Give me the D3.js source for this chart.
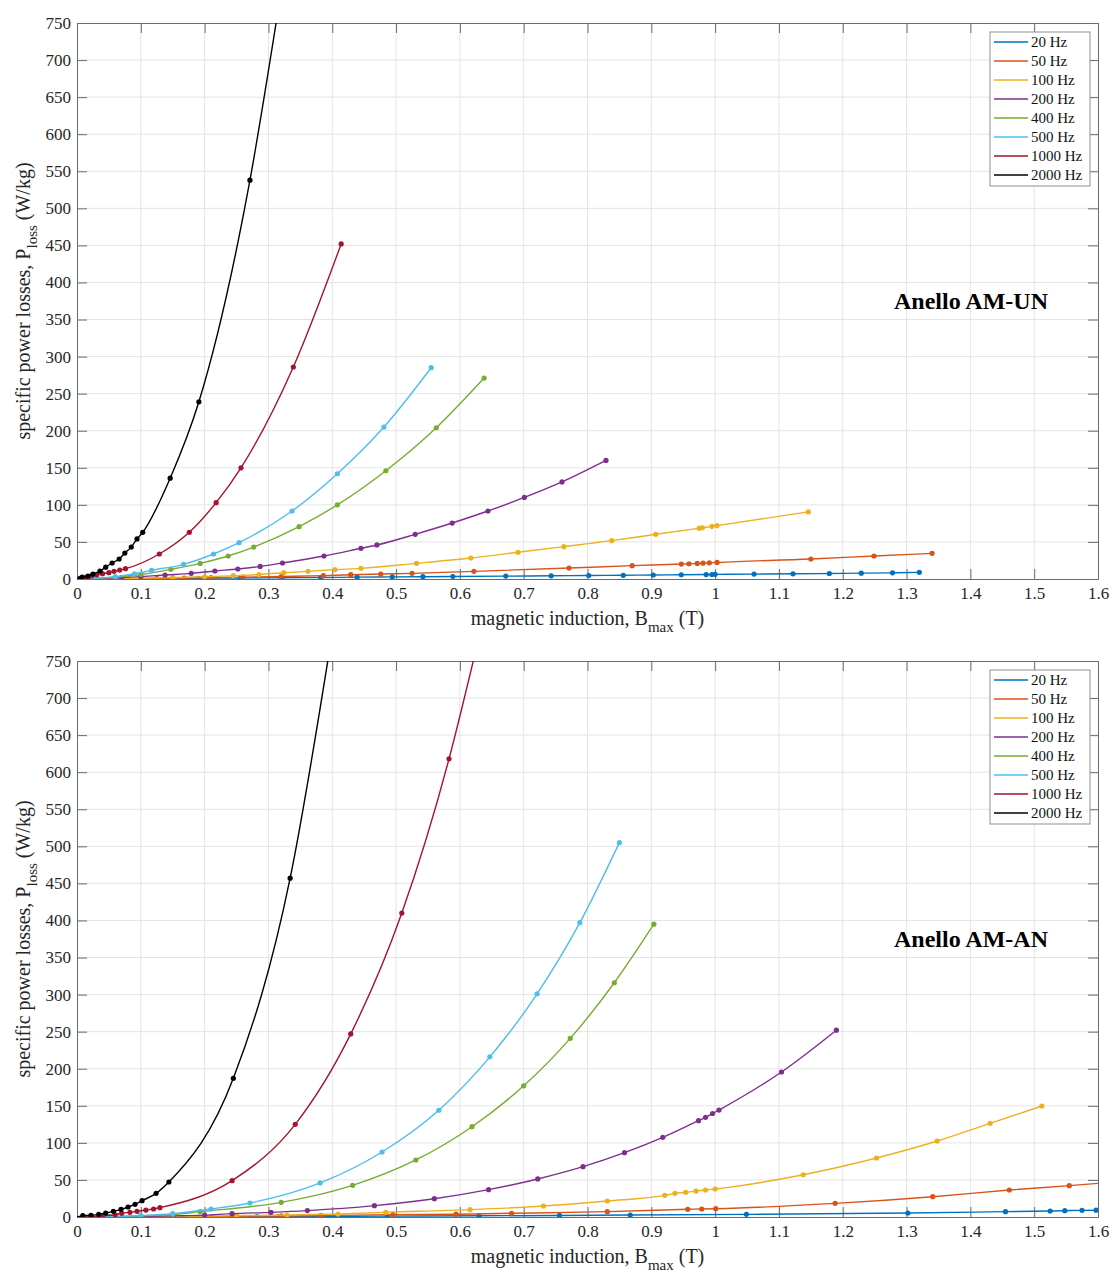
<!DOCTYPE html>
<html><head><meta charset="utf-8">
<script src="https://cdn.jsdelivr.net/npm/d3@7"></script>
<style>
body{margin:0;background:#fff}
text{font-family:"Liberation Serif","Times New Roman",serif}
</style>
</head><body>
<svg id="c" width="1112" height="1273"></svg>
<script>
// ---------- labels / ticks ----------
const legendLabels = ["20 Hz","50 Hz","100 Hz","200 Hz","400 Hz","500 Hz","1000 Hz","2000 Hz"];
const seriesColors = ["#0072BD","#D95319","#EDB120","#7E2F8E","#77AC30","#4DBEEE","#A2142F","#000000"];
const xTicks = [0,0.1,0.2,0.3,0.4,0.5,0.6,0.7,0.8,0.9,1,1.1,1.2,1.3,1.4,1.5,1.6];
const yTicks = [0,50,100,150,200,250,300,350,400,450,500,550,600,650,700,750];
const panelTitles = ["Anello AM-UN","Anello AM-AN"];

// ---------- Anello AM-UN (top) : [Bmax (T), Ploss (W/kg)] ----------
const un20 = [[0.03,0.1],[0.1,0.5],[0.19,1.0],[0.256,1.3],[0.321,1.7],[0.382,2.0],[0.439,2.5],[0.494,2.8],[0.542,3.1],[0.589,3.4],[0.672,3.9],[0.743,4.3],[0.802,4.7],[0.856,5.0],[0.903,5.4],[0.947,5.7],[0.986,6.0],[0.995,6.1],[1.0,6.3],[1.061,6.6],[1.122,7.0],[1.179,7.4],[1.229,7.9],[1.278,8.3],[1.320,9.0]];
const un50 = [[0.02,0.1],[0.07,0.4],[0.125,0.9],[0.168,1.3],[0.21,1.8],[0.26,2.4],[0.32,3.3],[0.386,4.5],[0.429,5.8],[0.476,6.7],[0.525,7.6],[0.622,10.3],[0.771,14.8],[0.870,18],[0.947,20.2],[0.959,20.6],[0.972,21],[0.981,21.4],[0.991,21.8],[1.003,22.3],[1.150,27],[1.249,31],[1.340,34.6]];
const un100 = [[0.02,0.2],[0.08,0.8],[0.15,2],[0.2,3],[0.245,4.5],[0.285,6],[0.324,8.5],[0.362,10.3],[0.404,12.6],[0.445,14.4],[0.532,21.1],[0.617,28.3],[0.691,36],[0.763,43.6],[0.838,51.7],[0.907,60.3],[0.975,68.5],[0.980,69.1],[0.995,71.0],[1.003,72.0],[1.146,90.5]];
const un200 = [[0.03,0.5],[0.07,1.8],[0.1,3.2],[0.138,5.4],[0.179,7.6],[0.216,10.8],[0.252,13.5],[0.287,17],[0.322,21.6],[0.387,31],[0.445,41.4],[0.470,45.9],[0.530,60.3],[0.588,75.5],[0.644,91.7],[0.701,110],[0.760,131],[0.829,160]];
const un400 = [[0.03,0.8],[0.06,2.5],[0.1,6],[0.147,13],[0.193,21],[0.237,31],[0.277,43],[0.348,70.6],[0.408,100],[0.484,146],[0.563,204],[0.638,271]];
const un500 = [[0.03,1],[0.06,3],[0.09,7],[0.117,11.7],[0.167,19.8],[0.214,33.7],[0.254,49],[0.337,91.7],[0.408,142],[0.481,205],[0.555,285]];
const un1000 = [[0.005,0.5],[0.012,1.5],[0.018,3],[0.023,4.5],[0.031,5.8],[0.040,7.2],[0.050,8.5],[0.058,10.3],[0.067,12.1],[0.076,13.9],[0.129,33.7],[0.176,63],[0.218,103],[0.257,150],[0.339,286],[0.414,452]];
const un2000 = [[0.005,1],[0.008,2.7],[0.017,4],[0.025,6.7],[0.036,10.8],[0.045,16],[0.055,21.6],[0.066,27],[0.075,35],[0.085,43],[0.094,54],[0.103,63],[0.146,136],[0.191,239],[0.271,538]];
const un2000Tail = [[0.312,750]];

// ---------- Anello AM-AN (bottom) ----------
const an20 = [[0.05,0.1],[0.1,0.2],[0.15,0.3],[0.212,0.4],[0.282,0.6],[0.315,0.7],[0.386,0.9],[0.486,1.2],[0.630,1.6],[0.756,2.1],[0.867,2.6],[1.049,3.6],[1.302,5.4],[1.455,7.2],[1.525,8.1],[1.548,8.5],[1.575,9],[1.597,9.2]];
const an50 = [[0.05,0.1],[0.1,0.3],[0.15,0.5],[0.2,0.7],[0.25,1],[0.32,1.4],[0.382,1.9],[0.495,3.2],[0.594,3.8],[0.681,5],[0.831,7.2],[0.957,10.4],[0.979,10.8],[1.001,11.2],[1.188,18.4],[1.341,27.4],[1.461,36.4],[1.555,42.3]];
const an50Tail = [[1.6,45.4]];
const an100 = [[0.05,0.2],[0.1,0.5],[0.15,0.9],[0.2,1.3],[0.25,1.8],[0.329,2.7],[0.409,4],[0.484,6.3],[0.616,9.9],[0.731,14.8],[0.831,21.6],[0.921,29.2],[0.937,31.9],[0.954,33.3],[0.970,35],[0.985,36.4],[1.0,37.8],[1.138,57],[1.253,79.6],[1.348,102.5],[1.431,126.4],[1.512,149.7]];
const an200 = [[0.05,0.3],[0.1,0.8],[0.15,1.5],[0.2,2.5],[0.243,4.5],[0.304,6.3],[0.361,8.6],[0.466,15.3],[0.560,24.7],[0.645,36.9],[0.722,51.3],[0.793,67.9],[0.858,86.8],[0.918,107.5],[0.974,130],[0.985,134.4],[0.996,139.6],[1.006,144.3],[1.104,195.6],[1.19,252]];
const an400 = [[0.05,0.5],[0.1,1.5],[0.15,3.5],[0.193,7.2],[0.320,19.8],[0.432,42.7],[0.531,76.9],[0.619,121.8],[0.700,177],[0.773,241],[0.842,316],[0.904,395]];
const an500 = [[0.05,0.5],[0.1,2],[0.15,4.5],[0.21,10.8],[0.271,18.9],[0.381,45.9],[0.478,87.7],[0.567,144],[0.647,216],[0.721,301],[0.788,397],[0.850,505]];
const an1000 = [[0.02,0.5],[0.04,1.5],[0.06,3],[0.07,5],[0.083,6.3],[0.094,7.6],[0.108,9.4],[0.120,10.8],[0.130,12.6],[0.243,49],[0.342,125],[0.429,247],[0.509,410],[0.583,618]];
const an1000Tail = [[0.621,750]];
const an2000 = [[0.009,1.8],[0.022,2.2],[0.034,3.6],[0.045,5.4],[0.057,7.6],[0.069,10.3],[0.080,13.5],[0.091,17.1],[0.102,22],[0.124,31.9],[0.144,47.2],[0.245,187],[0.334,457]];
const an2000Tail = [[0.393,750]];

const panelSeries = [
  [un20,un50,un100,un200,un400,un500,un1000,un2000],
  [an20,an50,an100,an200,an400,an500,an1000,an2000]
];
const panelTails = [
  [[],[],[],[],[],[],[],un2000Tail],
  [[],an50Tail,[],[],[],[],an1000Tail,an2000Tail]
];

// ---------- drawing ----------
const svg = d3.select("#c");
const left = 77, right = 1098;
const panelTops = [23, 661];
const ph = 556;
const axisCol = "#6b6b6b";
const gridCol = "#e4e4e4";
const serif = '"Liberation Serif","Times New Roman",serif';
const fmtX = d => String(+d.toFixed(1));

panelTops.forEach((top, pi) => {
  const bottom = top + ph;
  const x = d3.scaleLinear().domain([0,1.6]).range([left,right]);
  const y = d3.scaleLinear().domain([0,750]).range([bottom,top]);
  const g = svg.append("g");

  // grid
  g.append("g").selectAll("line").data(xTicks.slice(1,-1)).join("line")
    .attr("x1",d=>x(d)).attr("x2",d=>x(d)).attr("y1",top).attr("y2",bottom)
    .attr("stroke",gridCol).attr("stroke-width",1);
  g.append("g").selectAll("line").data(yTicks.slice(1,-1)).join("line")
    .attr("y1",d=>y(d)).attr("y2",d=>y(d)).attr("x1",left).attr("x2",right)
    .attr("stroke",gridCol).attr("stroke-width",1);

  // axes with inside ticks
  const ax = g.append("g").attr("transform",`translate(0,${bottom})`)
    .call(d3.axisBottom(x).tickValues(xTicks).tickFormat(fmtX).tickSizeInner(-10).tickSizeOuter(0).tickPadding(8));
  const axT = g.append("g").attr("transform",`translate(0,${top})`)
    .call(d3.axisTop(x).tickValues(xTicks).tickFormat("").tickSizeInner(-10).tickSizeOuter(0));
  const ay = g.append("g").attr("transform",`translate(${left},0)`)
    .call(d3.axisLeft(y).tickValues(yTicks).tickSizeInner(-10).tickSizeOuter(0).tickPadding(6));
  const ayR = g.append("g").attr("transform",`translate(${right},0)`)
    .call(d3.axisRight(y).tickValues(yTicks).tickFormat("").tickSizeInner(-10).tickSizeOuter(0));
  [ax,axT,ay,ayR].forEach(a=>{
    a.attr("font-family",serif).attr("font-size",17);
    a.select(".domain").attr("stroke",axisCol);
    a.selectAll(".tick line").attr("stroke",axisCol);
    a.selectAll(".tick text").attr("fill","#262626")
      .attr("font-family",serif).style("font-family",serif).style("font-size","17px");
  });

  // clip
  const cid = "clip"+pi;
  svg.append("defs").append("clipPath").attr("id",cid)
    .append("rect").attr("x",left).attr("y",top).attr("width",right-left).attr("height",ph);

  const line = d3.line().x(d=>x(d[0])).y(d=>y(d[1])).curve(d3.curveMonotoneX);
  const plot = g.append("g").attr("clip-path",`url(#${cid})`);
  panelSeries[pi].forEach((pts, si) => {
    const col = seriesColors[si];
    const lineData = [[0,0]].concat(pts, panelTails[pi][si]);
    plot.append("path").datum(lineData).attr("d",line)
      .attr("fill","none").attr("stroke",col).attr("stroke-width",1.4);
    plot.append("g").selectAll("circle").data(pts).join("circle")
      .attr("cx",d=>x(d[0])).attr("cy",d=>y(d[1])).attr("r",2.6).attr("fill",col);
  });

  // legend
  const lx = 990, ly = top + 9, lw = 100, rowH = 19;
  const lg = g.append("g");
  lg.append("rect").attr("x",lx).attr("y",ly).attr("width",lw).attr("height",rowH*legendLabels.length+2)
    .attr("fill","#fff").attr("stroke","#8f8f8f").attr("stroke-width",1);
  legendLabels.forEach((lab,i)=>{
    const cy = ly + 10 + i*rowH;
    lg.append("line").attr("x1",lx+4).attr("x2",lx+38).attr("y1",cy).attr("y2",cy)
      .attr("stroke",seriesColors[i]).attr("stroke-width",1.4);
    lg.append("text").attr("x",lx+41).attr("y",cy+5).text(lab)
      .attr("fill","#111").style("font-size","15px");
  });

  // annotation
  g.append("text").attr("x",894).attr("y",top+286).text(panelTitles[pi])
    .style("font-size","24px").style("font-weight","bold").attr("fill","#000");

  // x label
  const xl = g.append("text").attr("x",(left+right)/2).attr("y",bottom+46)
    .attr("text-anchor","middle").style("font-size","20px").attr("fill","#262626");
  xl.append("tspan").text("magnetic induction, B");
  xl.append("tspan").text("max").style("font-size","15px").attr("dy",7);
  xl.append("tspan").text(" (T)").attr("dy",-7);

  // y label
  const yl = g.append("text").attr("transform",`translate(30,${(top+bottom)/2}) rotate(-90)`)
    .attr("text-anchor","middle").style("font-size","20px").attr("fill","#262626");
  yl.append("tspan").text("specific power losses, P");
  yl.append("tspan").text("loss").style("font-size","15px").attr("dy",7);
  yl.append("tspan").text(" (W/kg)").attr("dy",-7);
});
</script>
</body></html>
